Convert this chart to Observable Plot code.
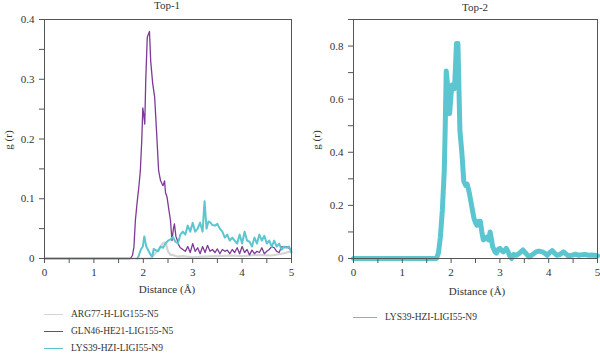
<!DOCTYPE html>
<html>
<head>
<meta charset="utf-8">
<script src="https://cdn.jsdelivr.net/npm/d3@7"></script>
<script src="https://cdn.jsdelivr.net/npm/@observablehq/plot@0.6"></script>
<style>
  html, body { margin: 0; padding: 0; background: #fff; }
  #wrap { position: relative; width: 600px; height: 356px; font-family: "Liberation Serif", "Times New Roman", serif; color: #333; }
  .abs { position: absolute; }
  .title { font-size: 11px; transform: translateX(-50%); white-space: nowrap; }
  .xlab { font-size: 11px; transform: translateX(-50%); white-space: nowrap; }
  .ylab { font-size: 11px; transform: translate(-50%, -50%) rotate(-90deg); white-space: nowrap; }
  .leg { font-size: 9.5px; white-space: nowrap; display: flex; align-items: center; }
  .leg span.sw { display: inline-block; height: 1px; margin-right: 8px; }
</style>
</head>
<body>
<div id="wrap"></div>
<script>
// ---- Data ----
const xTicks = [0, 1, 2, 3, 4, 5];
const xMinorTicks = [0.5, 1.5, 2.5, 3.5, 4.5];
const yTicksTop1 = [0, 0.1, 0.2, 0.3, 0.4];
const yMinorTop1 = [0.05, 0.15, 0.25, 0.35];
const yTicksTop2 = [0, 0.2, 0.4, 0.6, 0.8];
const yMinorTop2 = [0.1, 0.3, 0.5, 0.7, 0.9];

const seriesNames = ["ARG77-H-LIG155-N5", "GLN46-HE21-LIG155-N5", "LYS39-HZI-LIGI55-N9"];
const seriesColors = ["#d4d4d4", "#7d3a96", "#5cc6d0"];

// Top-1: ARG77 (grey)
const argX = [0, 2.15, 2.2, 2.25, 2.3, 2.35, 2.4, 2.45, 2.5, 2.55, 2.6, 2.7, 2.8, 3.0, 3.2, 3.5, 3.8, 4.0, 4.3, 4.6, 4.8, 5.0];
const argY = [0, 0, 0.005, 0.01, 0.014, 0.02, 0.026, 0.027, 0.012, 0.006, 0.006, 0.003, 0.004, 0.002, 0.003, 0.004, 0.005, 0.004, 0.006, 0.005, 0.008, 0.012];

// Top-1: GLN46 (purple)
const glnX = [0, 1.74, 1.78, 1.81, 1.84, 1.87, 1.91, 1.94, 1.97, 1.99, 2.01, 2.03, 2.05, 2.08, 2.1, 2.125, 2.15, 2.19, 2.23, 2.27, 2.31, 2.35, 2.38, 2.40, 2.43, 2.45, 2.48, 2.52, 2.55, 2.58, 2.61, 2.63, 2.66, 2.69, 2.72,
  2.75, 2.8, 2.85, 2.9, 2.95, 3.0, 3.05, 3.1, 3.15, 3.2, 3.25, 3.3, 3.35, 3.4, 3.45, 3.5, 3.55, 3.6, 3.65, 3.7, 3.75, 3.8, 3.85, 3.9, 3.95, 4.0, 4.05, 4.1, 4.15, 4.2, 4.25, 4.3, 4.35, 4.4, 4.45, 4.5, 4.55, 4.6, 4.65, 4.7, 4.75, 4.8, 4.85, 4.9, 4.95, 5.0];
const glnY = [0, 0, 0.005, 0.019, 0.064, 0.09, 0.12, 0.147, 0.2, 0.252, 0.24, 0.225, 0.30, 0.37, 0.375, 0.38, 0.33, 0.293, 0.27, 0.21, 0.147, 0.13, 0.125, 0.122, 0.13, 0.11, 0.103, 0.08, 0.064, 0.03, 0.05, 0.058, 0.037, 0.03, 0.022,
  0.018, 0.015, 0.012, 0.02, 0.01, 0.025, 0.012, 0.018, 0.008, 0.02, 0.01, 0.022, 0.012, 0.015, 0.01, 0.016, 0.008, 0.015, 0.012, 0.014, 0.008, 0.015, 0.01, 0.018, 0.008, 0.02, 0.01, 0.015, 0.006, 0.014, 0.008, 0.012, 0.01, 0.018, 0.008, 0.012, 0.015, 0.02, 0.018, 0.012, 0.01, 0.02, 0.018, 0.02, 0.017, 0.015];

// Top-1: LYS39 (cyan)
const lysX = [1.88, 1.91, 1.95, 1.99, 2.02, 2.06, 2.11, 2.15, 2.18, 2.21, 2.25, 2.3, 2.35, 2.4, 2.45, 2.5, 2.55, 2.6, 2.65, 2.7, 2.75, 2.8, 2.85, 2.9, 2.95, 3.0, 3.05, 3.1, 3.15, 3.2, 3.24, 3.28, 3.32, 3.36, 3.4, 3.45, 3.5, 3.55, 3.6, 3.65, 3.7, 3.75, 3.8, 3.85, 3.9, 3.95, 4.0, 4.05, 4.1, 4.15, 4.2, 4.25, 4.3, 4.35, 4.4, 4.45, 4.5, 4.55, 4.6, 4.65, 4.7, 4.75, 4.8, 4.85, 4.9, 4.95, 5.0];
const lysY = [0, 0.005, 0.015, 0.02, 0.037, 0.02, 0.012, 0.006, 0.003, 0.016, 0.014, 0.012, 0.02, 0.018, 0.025, 0.03, 0.032, 0.036, 0.028, 0.025, 0.04, 0.045, 0.04, 0.055, 0.045, 0.06, 0.045, 0.05, 0.06, 0.045, 0.096, 0.05, 0.062, 0.06, 0.056, 0.055, 0.058, 0.05, 0.045, 0.035, 0.04, 0.03, 0.035, 0.03, 0.025, 0.04, 0.025, 0.045, 0.03, 0.028, 0.02, 0.035, 0.025, 0.04, 0.03, 0.038, 0.025, 0.03, 0.02, 0.03, 0.02, 0.025, 0.015, 0.02, 0.018, 0.02, 0.01];

// Top-2: LYS39 (cyan)
const top2X = [0, 1.7, 1.74, 1.78, 1.82, 1.86, 1.88, 1.90, 1.93, 1.97, 2.0, 2.02, 2.07, 2.11, 2.14, 2.18, 2.22, 2.26, 2.3, 2.33, 2.37, 2.40, 2.44, 2.47, 2.5, 2.53, 2.57, 2.6, 2.63, 2.66, 2.7, 2.73, 2.77, 2.8, 2.83, 2.85, 2.9, 2.93, 2.97, 3.0, 3.04, 3.07, 3.1, 3.13, 3.17, 3.2, 3.24, 3.28, 3.34, 3.4, 3.47, 3.53, 3.6, 3.67, 3.74, 3.8, 3.87, 3.92, 3.97, 4.02, 4.07, 4.12, 4.17, 4.23, 4.3, 4.35, 4.4, 4.47, 4.55, 4.62, 4.68, 4.75, 4.82, 4.88, 4.95, 5.0];
const top2Y = [0, 0, 0.02, 0.08, 0.18, 0.33, 0.5, 0.706, 0.65, 0.546, 0.62, 0.653, 0.64, 0.81, 0.81, 0.483, 0.40, 0.29, 0.275, 0.28, 0.25, 0.22, 0.18, 0.15, 0.135, 0.125, 0.14, 0.14, 0.10, 0.07, 0.075, 0.08, 0.07, 0.1, 0.07, 0.045, 0.025, 0.02, 0.035, 0.038, 0.03, 0.025, 0.03, 0.038, 0.025, 0.01, 0.0, 0.015, 0.012, 0.02, 0.032, 0.02, 0.006, 0.015, 0.025, 0.028, 0.025, 0.02, 0.012, 0.022, 0.03, 0.02, 0.012, 0.015, 0.025, 0.018, 0.01, 0.012, 0.016, 0.012, 0.014, 0.015, 0.012, 0.013, 0.012, 0.01];

// ---- Build ----
const zip = (xs, ys) => xs.map((x, i) => ({x, y: ys[i]}));
const wrap = document.getElementById("wrap");
const style = {fontFamily: "'Liberation Serif', 'Times New Roman', serif", fontSize: "11px", color: "#333", background: "transparent", overflow: "visible"};
const axisStroke = "#555";

function panel(opts) {
  return Plot.plot({
    width: 300, height: 300,
    marginTop: 19, marginBottom: 42, marginLeft: opts.ml, marginRight: opts.mr,
    style,
    x: {domain: [0, 5]},
    y: {domain: opts.yDomain},
    marks: [
      ...opts.lines,
      Plot.frame({stroke: axisStroke, strokeWidth: 1}),
      Plot.axisX({ticks: xTicks, tickSize: 5, tickPadding: 5, tickFormat: d => String(d), label: null, stroke: axisStroke}),
      Plot.axisX({ticks: xMinorTicks, tickSize: 5, tickFormat: () => "", label: null, stroke: axisStroke}),
      Plot.axisY({ticks: opts.yTicks, tickSize: 5, tickPadding: 5, tickFormat: d => String(d), label: null, stroke: axisStroke}),
      Plot.axisY({ticks: opts.yMinor, tickSize: 5, tickFormat: () => "", label: null, stroke: axisStroke})
    ]
  });
}

const left = panel({
  ml: 44, mr: 9, yDomain: [0, 0.4], yTicks: yTicksTop1, yMinor: yMinorTop1,
  lines: [
    Plot.line(zip(argX, argY), {x: "x", y: "y", stroke: seriesColors[0], strokeWidth: 2.2}),
    Plot.line(zip(glnX, glnY), {x: "x", y: "y", stroke: seriesColors[1], strokeWidth: 1.3}),
    Plot.line(zip(lysX, lysY), {x: "x", y: "y", stroke: seriesColors[2], strokeWidth: 2})
  ]
});
const right = panel({
  ml: 53, mr: 3, yDomain: [0, 0.9], yTicks: yTicksTop2, yMinor: yMinorTop2,
  lines: [
    Plot.line(zip(top2X, top2Y), {x: "x", y: "y", stroke: seriesColors[2], strokeWidth: 5})
  ]
});

function place(el, x, y) { el.classList.add("abs"); el.style.left = x + "px"; el.style.top = y + "px"; wrap.appendChild(el); return el; }
function txt(cls, s, x, y) { const d = document.createElement("div"); d.className = cls; d.textContent = s; return place(d, x, y); }

place(left, 0, 0);
place(right, 300, 0);

txt("title", "Top-1", 167, -1);
txt("title", "Top-2", 475, 1);
txt("xlab", "Distance (Å)", 167, 283);
txt("xlab", "Distance (Å)", 477, 285);
txt("ylab", "g (r)", 8, 140);
txt("ylab", "g (r)", 316, 140);

function legend(name, color, x, y, w) {
  const d = document.createElement("div");
  d.className = "leg";
  const sw = document.createElement("span");
  sw.className = "sw";
  sw.style.width = w + "px";
  sw.style.background = color;
  d.appendChild(sw);
  d.appendChild(document.createTextNode(name));
  return place(d, x, y);
}
legend(seriesNames[0], seriesColors[0], 44, 309, 19);
legend(seriesNames[1], seriesColors[1], 44, 326, 19);
legend(seriesNames[2], seriesColors[2], 44, 343, 19);
legend(seriesNames[2], seriesColors[2], 353, 312, 24);
</script>
</body>
</html>
